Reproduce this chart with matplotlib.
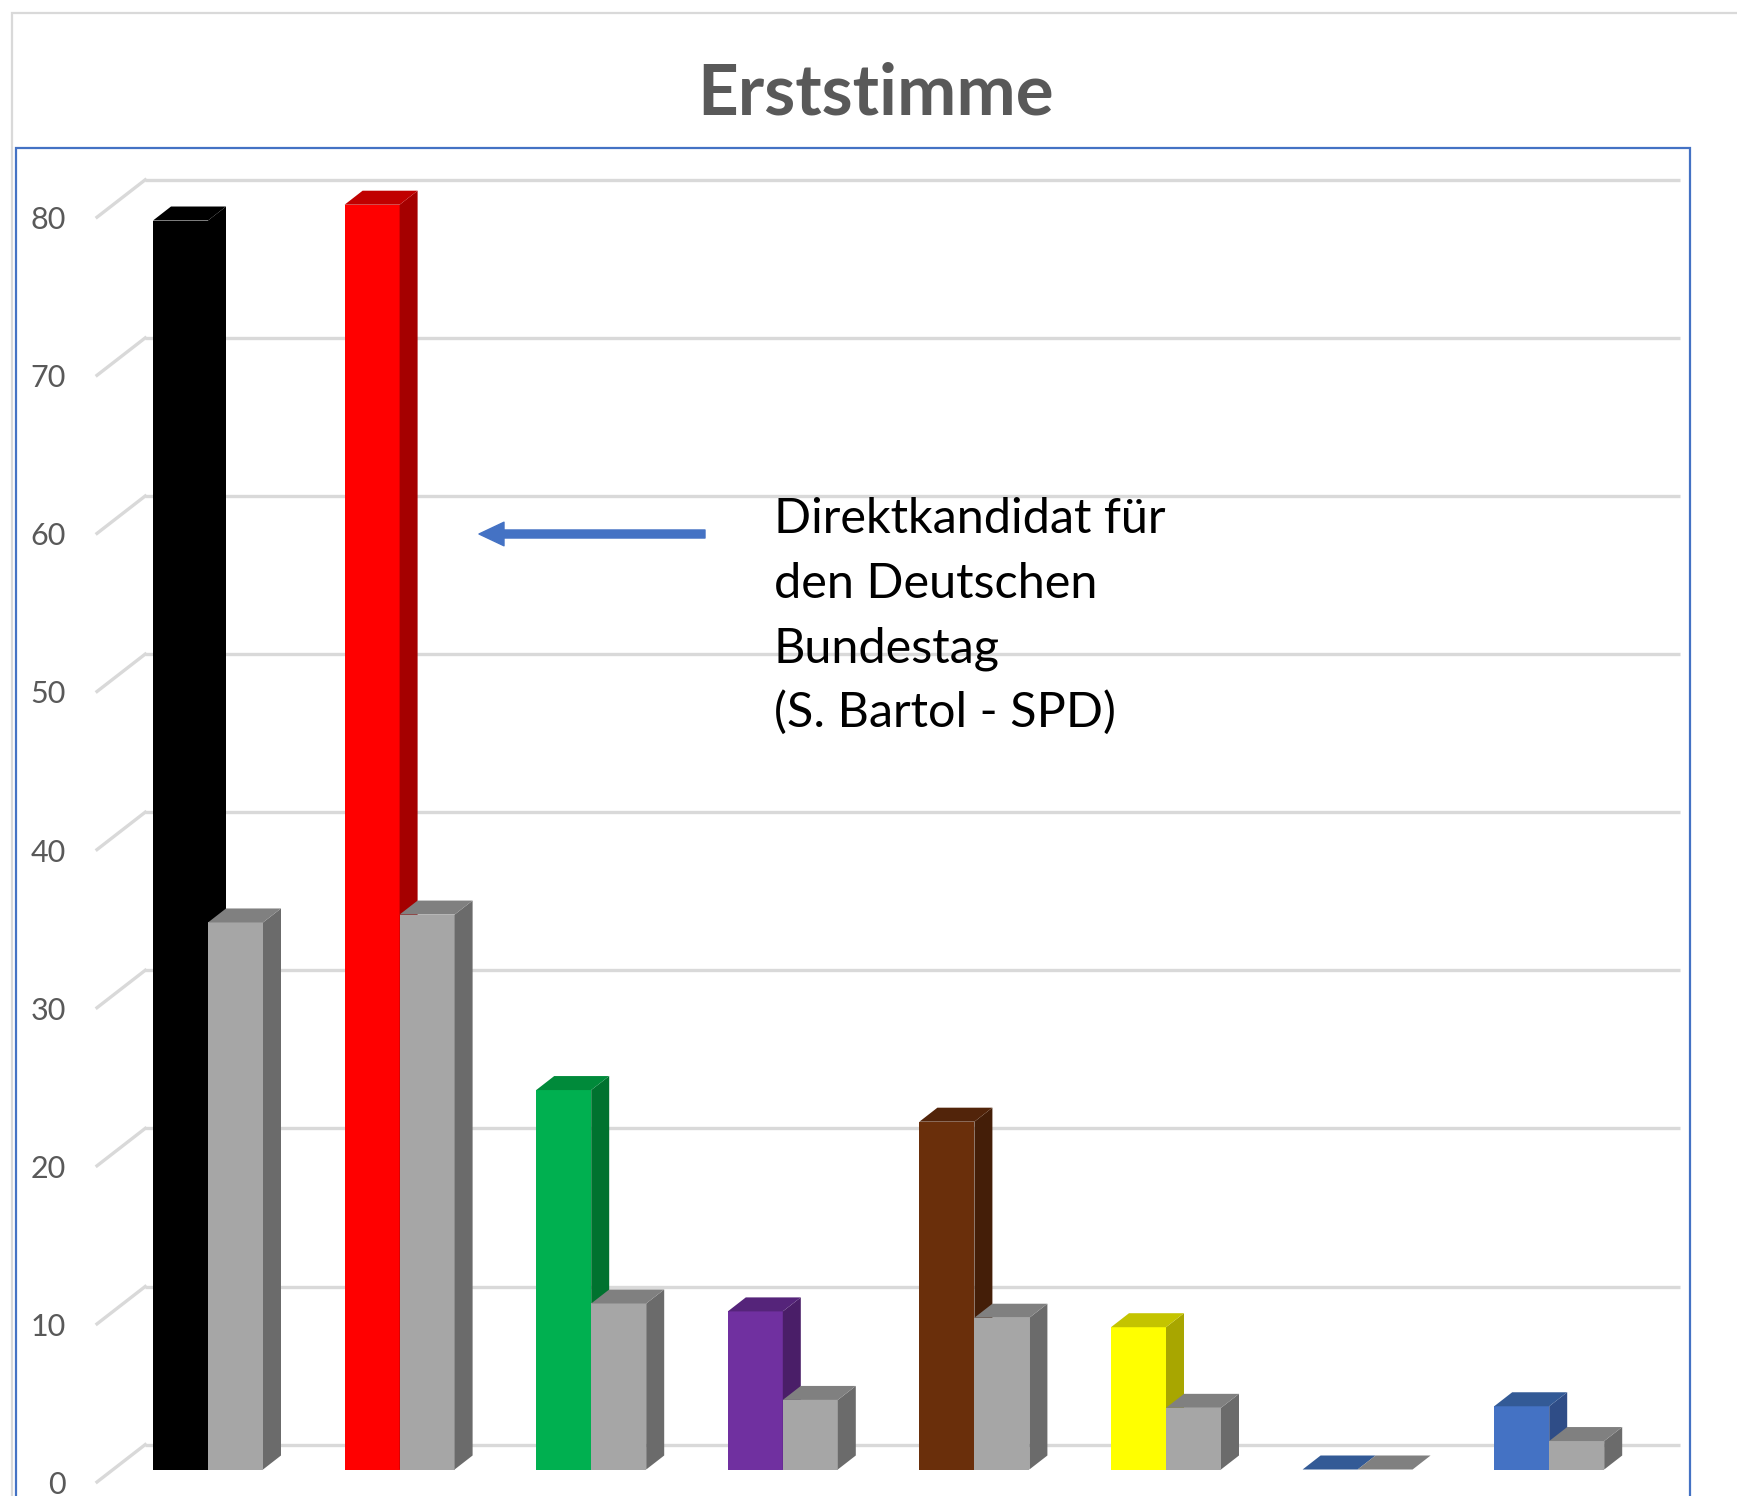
import matplotlib
matplotlib.use("Agg")
import matplotlib.pyplot as plt
from matplotlib.patches import Polygon, Rectangle

# Stimmen je Partei (absolut) und Anteil in Prozent
parteien = ["CDU", "SPD", "Grüne", "Linke", "AfD", "FDP", "Sonstige", "Freie Wähler"]
stimmen = [79, 80, 24, 10, 22, 9, 0, 4]
prozent = [34.6, 35.1, 10.5, 4.4, 9.6, 3.9, 0.0, 1.8]
y_ticks = [0, 10, 20, 30, 40, 50, 60, 70, 80]

# Farben: Vorderseite, Seite, Deckel
farben = [
    ("#000000", "#000000", "#000000"),
    ("#FF0000", "#A50000", "#C00000"),
    ("#00B050", "#00722F", "#008A3A"),
    ("#7030A0", "#4A1E68", "#55247A"),
    ("#6A2F0B", "#441E08", "#52240A"),
    ("#FFFF00", "#A8A600", "#C4C400"),
    ("#4472C4", "#2F4D87", "#335A96"),
    ("#4472C4", "#2F4D87", "#335A96"),
]
grau = ("#A6A6A6", "#6B6B6B", "#808080")

W, H = 1737, 1496
fig = plt.figure(figsize=(W / 100, H / 100), dpi=100)
fig.patch.set_facecolor("white")
plt.rcParams["font.family"] = ["Lato", "DejaVu Sans"]

# Achse in der Ebene der Säulen-Vorderseiten
px_x = 191.6          # Pixel je Kategorie
px_y = 15.81          # Pixel je Einheit
y0_top = 1469.5       # Pixelzeile der Nulllinie (von oben)
ax = fig.add_axes([(208 - 0.5 * px_x) / W, (H - y0_top) / H,
                   8 * px_x / W, 80 * px_y / H])
ax.set_xlim(-0.5, 7.5)
ax.set_ylim(0, 80)
ax.set_axis_off()

# Versatz für die Pseudo-3D-Darstellung (in Dateneinheiten)
tief_dx, tief_dy = 18 / px_x, 14 / px_y        # Säulentiefe
wand_dx, wand_dy = 33 / px_x, 24.9 / px_y      # Rückwand
front_dx, front_dy = -15.2 / px_x, -12.5 / px_y  # Vorderkante der Seitenwand

gitter = "#D9D9D9"
for v in y_ticks:
    ax.plot([-0.5 + wand_dx, 7.5 + wand_dx + 0.01], [v + wand_dy] * 2,
            color=gitter, lw=2.4, solid_capstyle="butt", zorder=1, clip_on=False)
    ax.plot([-0.5 + front_dx, -0.5 + wand_dx], [v + front_dy, v + wand_dy],
            color=gitter, lw=2.4, zorder=1, clip_on=False)
    ax.text(-0.742, v + front_dy - 3 / px_y, str(v), ha="right", va="center",
            fontsize=22, color="#595959", clip_on=False)


def saeule(x0, breite, h, cols, z):
    vorne, seite, deckel = cols
    x1 = x0 + breite
    ax.bar(x0, h, width=breite, align="edge", color=vorne, lw=0,
           zorder=z, clip_on=False)
    ax.add_patch(Polygon([(x1, 0), (x1 + tief_dx, tief_dy),
                          (x1 + tief_dx, h + tief_dy), (x1, h)],
                         closed=True, fc=seite, lw=0, zorder=z, clip_on=False))
    ax.add_patch(Polygon([(x0, h), (x1, h), (x1 + tief_dx, h + tief_dy),
                          (x0 + tief_dx, h + tief_dy)],
                         closed=True, fc=deckel, lw=0, zorder=z, clip_on=False))


breite = 55 / px_x
for i, (s, p) in enumerate(zip(stimmen, prozent)):
    saeule(i - breite, breite, s, farben[i], 2 + 2 * i)
    saeule(i, breite, p, grau, 3 + 2 * i)

# Titel
fig.text(876 / W, 1 - 94 / H, "Erststimme", ha="center", va="center",
         fontsize=51, fontweight="bold", color="#595959")

# Hinweis mit Pfeil
zeilen = ["Direktkandidat für", "den Deutschen", "Bundestag", "(S. Bartol - SPD)"]
for k, z in enumerate(zeilen):
    fig.text(774 / W, 1 - (533 + 64.7 * k) / H, z, ha="left", va="baseline",
             fontsize=35, color="#000000", zorder=20)
ax.annotate("", xy=(479 / W, 1 - 534 / H), xytext=(705 / W, 1 - 534 / H),
            xycoords="figure fraction", textcoords="figure fraction",
            arrowprops=dict(width=5.8, headwidth=17, headlength=18,
                            fc="#4472C4", ec="#4472C4", shrink=0))

# Rahmen
fig.add_artist(Rectangle((12 / W, -0.1), 2, 1 - 13 / H + 0.1,
                         transform=fig.transFigure, fill=False,
                         ec="#D9D9D9", lw=1.6))
fig.add_artist(Rectangle((16 / W, -0.1), (1690 - 16) / W, 1 - 148 / H + 0.1,
                         transform=fig.transFigure, fill=False,
                         ec="#4472C4", lw=1.6))

fig.savefig("out.png", dpi=100)
